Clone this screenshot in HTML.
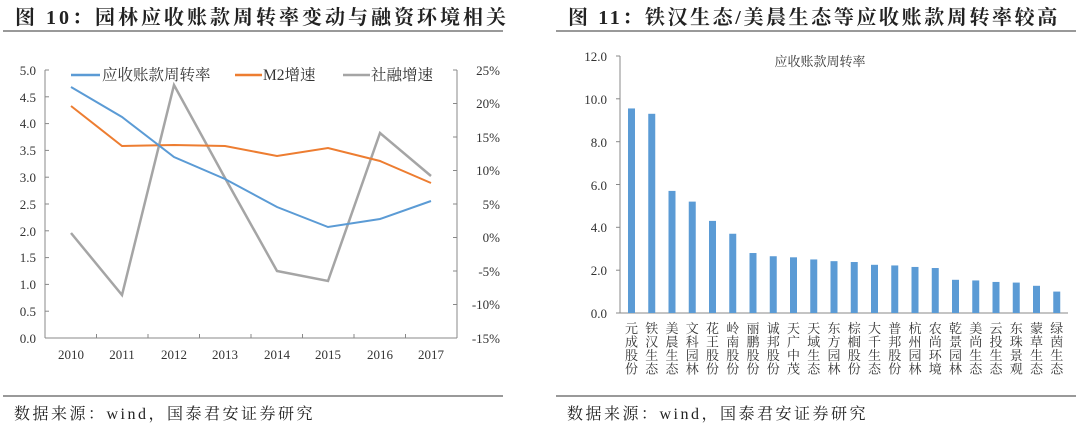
<!DOCTYPE html>
<html><head><meta charset="utf-8"><style>
body{margin:0;background:#fff;}
svg text{font-family:"Liberation Serif","Noto Serif CJK SC",serif;}
</style></head><body>
<svg width="1080" height="431" viewBox="0 0 1080 431" xmlns="http://www.w3.org/2000/svg">
<rect width="1080" height="431" fill="#fff"/>
<text x="15" y="24" font-size="20" font-weight="bold" fill="#222" letter-spacing="3">图 10：园林应收账款周转率变动与融资环境相关</text>
<line x1="3" y1="31" x2="503" y2="31" stroke="#333" stroke-width="1"/>
<text x="568" y="24" font-size="20" font-weight="bold" fill="#222" letter-spacing="2.6">图 11：铁汉生态/美晨生态等应收账款周转率较高</text>
<line x1="556" y1="31" x2="1076" y2="31" stroke="#333" stroke-width="1"/>
<line x1="3" y1="396" x2="503" y2="396" stroke="#333" stroke-width="1"/>
<line x1="556" y1="396" x2="1076" y2="396" stroke="#333" stroke-width="1"/>
<text x="14" y="419" font-size="16" fill="#222" letter-spacing="2.5" font-family="'Noto Serif CJK SC',serif">数据来源：wind，国泰君安证券研究</text>
<text x="567" y="419" font-size="16" fill="#222" letter-spacing="2.5" font-family="'Noto Serif CJK SC',serif">数据来源：wind，国泰君安证券研究</text>

<g stroke="#888" stroke-width="1" fill="none">
<line x1="45" y1="70" x2="45" y2="338"/>
<line x1="457" y1="70" x2="457" y2="338"/>
<line x1="45" y1="338" x2="457" y2="338"/>
</g>
<g stroke="#888">
<line x1="45" y1="70" x2="49" y2="70"/><line x1="45" y1="96.8" x2="49" y2="96.8"/><line x1="45" y1="123.6" x2="49" y2="123.6"/><line x1="45" y1="150.4" x2="49" y2="150.4"/><line x1="45" y1="177.2" x2="49" y2="177.2"/><line x1="45" y1="204" x2="49" y2="204"/><line x1="45" y1="230.8" x2="49" y2="230.8"/><line x1="45" y1="257.6" x2="49" y2="257.6"/><line x1="45" y1="284.4" x2="49" y2="284.4"/><line x1="45" y1="311.2" x2="49" y2="311.2"/>
<line x1="453" y1="70" x2="457" y2="70"/><line x1="453" y1="103.5" x2="457" y2="103.5"/><line x1="453" y1="137" x2="457" y2="137"/><line x1="453" y1="170.5" x2="457" y2="170.5"/><line x1="453" y1="204" x2="457" y2="204"/><line x1="453" y1="237.5" x2="457" y2="237.5"/><line x1="453" y1="271" x2="457" y2="271"/><line x1="453" y1="304.5" x2="457" y2="304.5"/>
<line x1="96.5" y1="334" x2="96.5" y2="338"/><line x1="148" y1="334" x2="148" y2="338"/><line x1="199.5" y1="334" x2="199.5" y2="338"/><line x1="251" y1="334" x2="251" y2="338"/><line x1="302.5" y1="334" x2="302.5" y2="338"/><line x1="354" y1="334" x2="354" y2="338"/><line x1="405.5" y1="334" x2="405.5" y2="338"/>
</g>
<g font-size="13" fill="#333" text-anchor="end">
<text x="36" y="75">5.0</text><text x="36" y="102">4.5</text><text x="36" y="128">4.0</text><text x="36" y="155">3.5</text><text x="36" y="182">3.0</text><text x="36" y="209">2.5</text><text x="36" y="236">2.0</text><text x="36" y="262">1.5</text><text x="36" y="289">1.0</text><text x="36" y="316">0.5</text><text x="36" y="343">0.0</text>
</g>
<g font-size="13" fill="#333" text-anchor="end">
<text x="500" y="75">25%</text><text x="500" y="108">20%</text><text x="500" y="142">15%</text><text x="500" y="175">10%</text><text x="500" y="209">5%</text><text x="500" y="242">0%</text><text x="500" y="276">-5%</text><text x="500" y="309">-10%</text><text x="500" y="343">-15%</text>
</g>
<g font-size="13" fill="#333" text-anchor="middle">
<text x="71" y="359">2010</text><text x="122" y="359">2011</text><text x="174" y="359">2012</text><text x="225" y="359">2013</text><text x="277" y="359">2014</text><text x="328" y="359">2015</text><text x="380" y="359">2016</text><text x="431" y="359">2017</text>
</g>
<polyline fill="none" stroke="#a5a5a5" stroke-width="2.5" points="71,233 122,295 174,85 225,178 277,271 328,281 380,133 431,176"/>
<polyline fill="none" stroke="#ed7d31" stroke-width="2" points="71,106 122,146 174,145 225,146 277,156 328,148 380,161 431,183"/>
<polyline fill="none" stroke="#5b9bd5" stroke-width="2" points="71,87 122,117 174,157 225,179 277,207 328,227 380,219 431,201"/>
<line x1="71" y1="75" x2="100" y2="75" stroke="#5b9bd5" stroke-width="2.5"/>
<text x="102" y="80" font-size="15.5" fill="#333">应收账款周转率</text>
<line x1="235" y1="75" x2="262" y2="75" stroke="#ed7d31" stroke-width="2.5"/>
<text x="263" y="80" font-size="15.5" fill="#333">M2增速</text>
<line x1="343" y1="75" x2="370" y2="75" stroke="#a5a5a5" stroke-width="2.5"/>
<text x="371" y="80" font-size="15.5" fill="#333">社融增速</text>

<text x="820" y="66" font-size="13" fill="#333" text-anchor="middle">应收账款周转率</text>
<g stroke="#888">
<line x1="620" y1="56" x2="620" y2="313"/><line x1="620" y1="313" x2="1068" y2="313"/>
<line x1="616" y1="56" x2="620" y2="56"/><line x1="616" y1="98.8" x2="620" y2="98.8"/><line x1="616" y1="141.7" x2="620" y2="141.7"/><line x1="616" y1="184.5" x2="620" y2="184.5"/><line x1="616" y1="227.3" x2="620" y2="227.3"/><line x1="616" y1="270.2" x2="620" y2="270.2"/><line x1="616" y1="313" x2="620" y2="313"/>
</g>
<g font-size="13" fill="#333" text-anchor="end">
<text x="607" y="61">12.0</text><text x="607" y="104">10.0</text><text x="607" y="147">8.0</text><text x="607" y="190">6.0</text><text x="607" y="232">4.0</text><text x="607" y="275">2.0</text><text x="607" y="318">0.0</text>
</g>
<g fill="#5b9bd5" id="bars"></g>
<g id="labels" font-size="13" fill="#333" text-anchor="middle" font-family="'Noto Serif CJK SC',serif"></g>
<script>
var v=[9.55,9.3,5.7,5.2,4.3,3.7,2.8,2.65,2.6,2.5,2.42,2.38,2.25,2.22,2.15,2.1,1.55,1.52,1.45,1.42,1.27,1.0];
var n=["元成股份","铁汉生态","美晨生态","文科园林","花王股份","岭南股份","丽鹏股份","诚邦股份","天广中茂","天域生态","东方园林","棕榈股份","大千生态","普邦股份","杭州园林","农尚环境","乾景园林","美尚生态","云投生态","东珠景观","蒙草生态","绿茵生态"];
var ns="http://www.w3.org/2000/svg",b=document.getElementById("bars"),l=document.getElementById("labels");
for(var i=0;i<22;i++){var cx=631.5+i*20.25;var h=v[i]*21.42;
var r=document.createElementNS(ns,"rect");r.setAttribute("x",cx-3.5);r.setAttribute("y",313-h);r.setAttribute("width",7);r.setAttribute("height",h);b.appendChild(r);
for(var j=0;j<4;j++){var t=document.createElementNS(ns,"text");t.setAttribute("x",cx);t.setAttribute("y",333+j*13.5);t.textContent=n[i][j];l.appendChild(t);}}
</script>
</svg>
</body></html>
